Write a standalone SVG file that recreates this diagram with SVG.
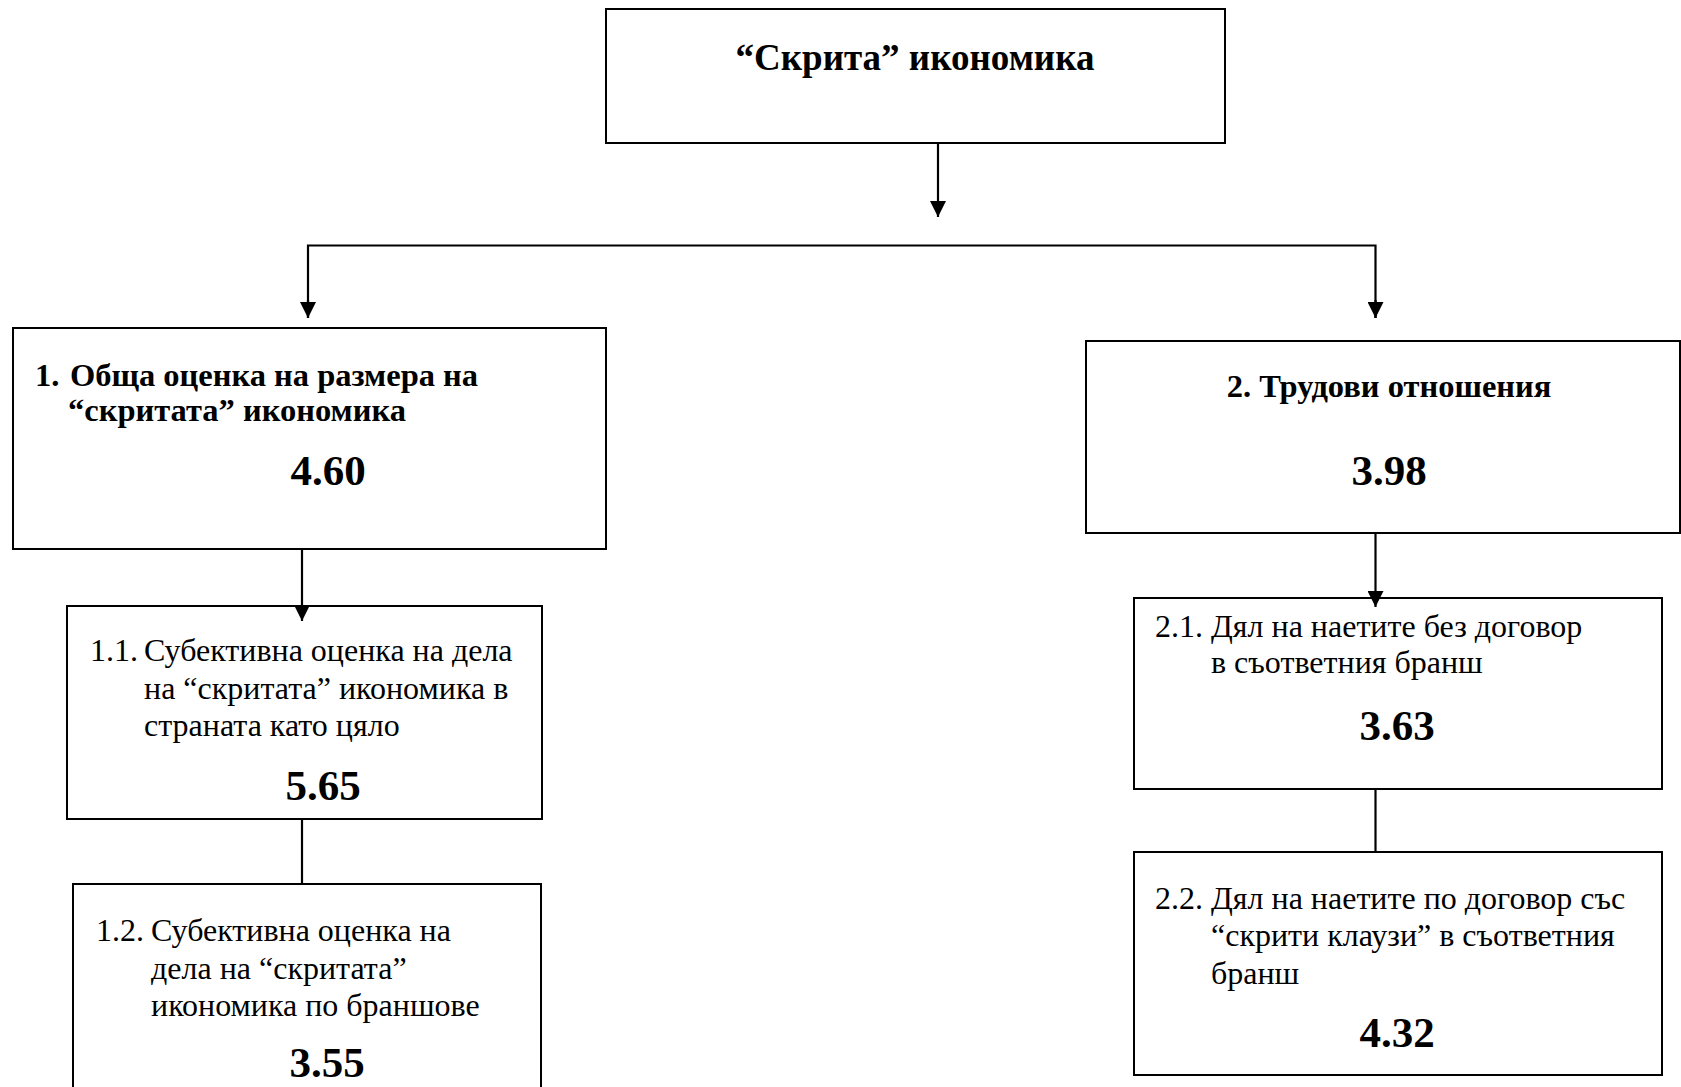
<svg xmlns="http://www.w3.org/2000/svg" width="1681" height="1087" viewBox="0 0 1681 1087">
<style>
.box{fill:#fff;stroke:#000;stroke-width:2}
.ln{fill:none;stroke:#000;stroke-width:2.2}
text{font-family:"Liberation Serif","Times New Roman",serif;fill:#000}
.t{font-weight:bold;font-size:37px}
.b{font-weight:bold;font-size:32.5px}
.r{font-size:32px}
.n{font-weight:bold;font-size:43px}
.c{text-anchor:middle}
</style>
<defs>
<marker id="ah" markerUnits="userSpaceOnUse" markerWidth="16" markerHeight="16" refX="16" refY="8" orient="auto">
<path d="M0,0 L16,8 L0,16 z" fill="#000"/>
</marker>
</defs>
<rect width="1681" height="1087" fill="#fff"/>
<g id="top">
<rect class="box" x="606" y="9" width="619" height="134"/>
<text class="t c" x="915" y="70">“Скрита” икономика</text>
</g>
<g id="n1">
<rect class="box" x="13" y="328" width="593" height="221"/>
<text class="b" x="35" y="386">1.<tspan x="70">Обща оценка на размера на</tspan></text>
<text class="b" x="68" y="421">“скритата” икономика</text>
<text class="n c" x="328" y="485">4.60</text>
</g>
<g id="n2">
<rect class="box" x="1086" y="341" width="594" height="192"/>
<text class="b c" x="1389" y="397">2. Трудови отношения</text>
<text class="n c" x="1389" y="485">3.98</text>
</g>
<g id="n11">
<rect class="box" x="67" y="606" width="475" height="213"/>
<text class="r" x="90" y="661">1.1.<tspan x="144">Субективна оценка на дела</tspan></text>
<text class="r" x="144" y="699">на “скритата” икономика в</text>
<text class="r" x="144" y="736">страната като цяло</text>
<text class="n c" x="323" y="800">5.65</text>
</g>
<g id="n12">
<rect class="box" x="73" y="884" width="468" height="220"/>
<text class="r" x="96" y="941">1.2.<tspan x="151">Субективна оценка на</tspan></text>
<text class="r" x="151" y="979">дела на “скритата”</text>
<text class="r" x="151" y="1016">икономика по браншове</text>
<text class="n c" x="327" y="1077">3.55</text>
</g>
<g id="n21">
<rect class="box" x="1134" y="598" width="528" height="191"/>
<text class="r" x="1155" y="637">2.1.<tspan x="1211">Дял на наетите без договор</tspan></text>
<text class="r" x="1211" y="673">в съответния бранш</text>
<text class="n c" x="1397" y="740">3.63</text>
</g>
<g id="n22">
<rect class="box" x="1134" y="852" width="528" height="223"/>
<text class="r" x="1155" y="909">2.2.<tspan x="1211">Дял на наетите по договор със</tspan></text>
<text class="r" x="1211" y="946">“скрити клаузи” в съответния</text>
<text class="r" x="1211" y="984">бранш</text>
<text class="n c" x="1397" y="1047">4.32</text>
</g>
<g id="connectors">
<line class="ln" x1="938" y1="143" x2="938" y2="217" marker-end="url(#ah)"/>
<polyline class="ln" points="308,318 308,245.5 1375.5,245.5 1375.5,318"/>
<line class="ln" x1="308" y1="300" x2="308" y2="318" marker-end="url(#ah)"/>
<line class="ln" x1="1375.5" y1="300" x2="1375.5" y2="318" marker-end="url(#ah)"/>
<line class="ln" x1="302" y1="549" x2="302" y2="621" marker-end="url(#ah)"/>
<line class="ln" x1="302" y1="819" x2="302" y2="884"/>
<line class="ln" x1="1375.5" y1="533" x2="1375.5" y2="607" marker-end="url(#ah)"/>
<line class="ln" x1="1375.5" y1="789" x2="1375.5" y2="852"/>
</g>
</svg>
